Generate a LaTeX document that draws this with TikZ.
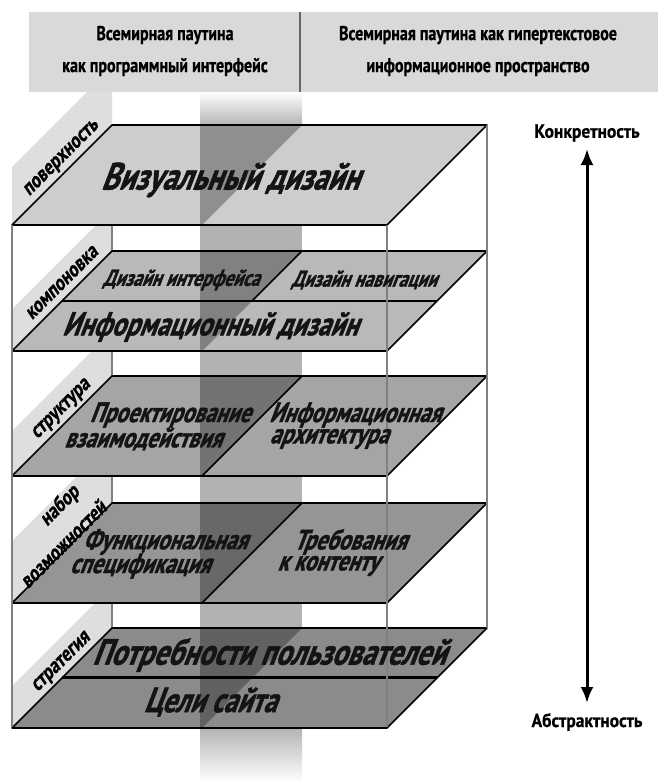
\documentclass[tikz,border=0pt]{standalone}
\usepackage{fontspec}
\setmainfont{PT Sans}
\newfontfamily\lf[FakeStretch=0.78,FakeSlant=0.38,FakeBold=1.4]{PT Sans}
\newfontfamily\hf[FakeStretch=0.8,FakeBold=0.8]{PT Sans}
\newfontfamily\sidefont[FakeStretch=0.92,FakeBold=0.6]{PT Sans}
\newfontfamily\tabfont[FakeStretch=0.85,FakeSlant=0.2,FakeBold=0.8]{PT Sans}
\usetikzlibrary{arrows.meta}
\definecolor{Lone}{HTML}{CDCDCD}
\definecolor{Ltwo}{HTML}{B9B9B9}
\definecolor{Lthree}{HTML}{A5A5A5}
\definecolor{Lfour}{HTML}{959595}
\definecolor{Lfive}{HTML}{8B8B8B}
\definecolor{tabc}{HTML}{DEDEDE}
\definecolor{hdrc}{HTML}{D9D9D9}
\tikzset{
  layer/.style={draw=black, line width=1.6pt, line join=round},
  boxline/.style={draw=black!50, line width=1.8pt},
  bandfill/.style={fill=black, fill opacity=0.3},
  tabpanel/.style={fill=tabc},
  ltext/.style={text=black!92, inner sep=0pt},
  big/.style={ltext, font={\lf\bfseries\fontsize{35}{35}\selectfont}},
  mid/.style={ltext, font={\lf\bfseries\fontsize{28}{28}\selectfont}},
  small/.style={ltext, font={\lf\bfseries\fontsize{23}{23}\selectfont}},
  labtext/.style={font={\tabfont\bfseries\fontsize{21}{21}\selectfont}, rotate=45, inner sep=0pt},
  hdr/.style={font={\hf\bfseries\fontsize{20}{32}\selectfont}, align=center, inner sep=0pt},
  side/.style={font={\sidefont\bfseries\fontsize{19}{19}\selectfont}, inner sep=0pt},
  divline/.style={draw=black, line width=1.6pt},
}
\begin{document}
\begin{tikzpicture}[x=1pt,y=-1pt]
\useasboundingbox (0,0) rectangle (658,782);
\fill[white] (0,0) rectangle (658,782);

% label panels in the left side plane
\foreach \t/\h in {125/58, 251/42, 376/45, 503/62, 628/42}
  \fill[tabpanel] (12,\t+100) -- (112,\t) -- (112,\t-\h) -- (12,\t+100-\h) -- cycle;

% back-left edge
\draw[boxline] (112,125) -- (112,628);

% translucent dividing plane
\fill[bandfill] (200,125) rectangle (302,727);
\shade[top color=white, bottom color=black!30] (200,92) rectangle (302,125.5);
\shade[top color=black!30, bottom color=white] (200,726.5) rectangle (302,782);

% layers
\foreach \t/\c in {125/Lone, 251/Ltwo, 376/Lthree, 503/Lfour, 628/Lfive} {
  \fill[\c] (12,\t+100) -- (387,\t+100) -- (487,\t) -- (112,\t) -- cycle;
  \fill[bandfill] (200,\t) -- (302,\t) -- (202,\t+100) -- (200,\t+100) -- cycle;
  \draw[layer] (12,\t+100) -- (387,\t+100) -- (487,\t) -- (112,\t) -- cycle;
}

% dividers inside layers
\draw[divline] (302,251) -- (252,301);
\draw[divline] (62,301) -- (437,301);
\draw[divline] (302,376) -- (202,476);
\draw[divline] (302,503) -- (202,603);
\draw[divline, line width=3pt] (62,677) -- (437,677);

% box edges
\draw[boxline] (12,225) -- (12,727);
\draw[boxline] (387,225) -- (387,727);
\draw[boxline] (487,125) -- (487,628);

% layer texts
\node[big, font={\lf\bfseries\fontsize{38}{38}\selectfont}] (v1) at (230,180) {Визуальный дизайн};
\node[small] (v2a) at (181,280) {Дизайн интерфейса};
\node[small] (v2b) at (364,280) {Дизайн навигации};
\node[big, font={\lf\bfseries\fontsize{33}{33}\selectfont}] (v2c) at (210,327) {Информационный дизайн};
\node[mid] (v3a) at (170,415) {Проектирование};
\node[mid] (v3b) at (143,439) {взаимодействия};
\node[mid] (v3c) at (355,415) {Информационная};
\node[mid] (v3d) at (329,439) {архитектура};
\node[mid] (v4a) at (165,542) {Функциональная};
\node[mid] (v4b) at (140,566) {спецификация};
\node[mid] (v4c) at (350,542) {Требования};
\node[mid] (v4d) at (328,566) {к контенту};
\node[big, font={\lf\bfseries\fontsize{36.5}{36.5}\selectfont}] (v5a) at (269,655) {Потребности пользователей};
\node[big] (v5b) at (210,702) {Цели сайта};

% side labels
\node[labtext] (lab1) at (62,159) {поверхность};
\node[labtext] (lab2) at (62,283) {компоновка};
\node[labtext] (lab3) at (62,410) {структура};
\node[labtext] (lab4a) at (60,506) {набор};
\node[labtext] (lab4b) at (63,544) {возможностей};
\node[labtext] (lab5) at (62,663) {стратегия};

% header
\fill[hdrc] (29,12) rectangle (658,92);
\draw[black!60, line width=1.5pt] (300,12) -- (300,92);
\node[hdr] (h1) at (165,51) {Всемирная паутина\\как программный интерфейс};
\node[hdr] (h2) at (478,51) {Всемирная паутина как гипертекстовое\\информационное пространство};

% scale arrow
\node[side] (konk) at (587,133) {Конкретность};
\node[side] (abst) at (587,722) {Абстрактность};
\coordinate (atop) at (587,149);
\coordinate (abot) at (587,703);
\draw[line width=3pt, {Latex[length=16pt,width=13pt]}-{Latex[length=16pt,width=13pt]}] (abot) -- (atop);
\end{tikzpicture}
\end{document}
